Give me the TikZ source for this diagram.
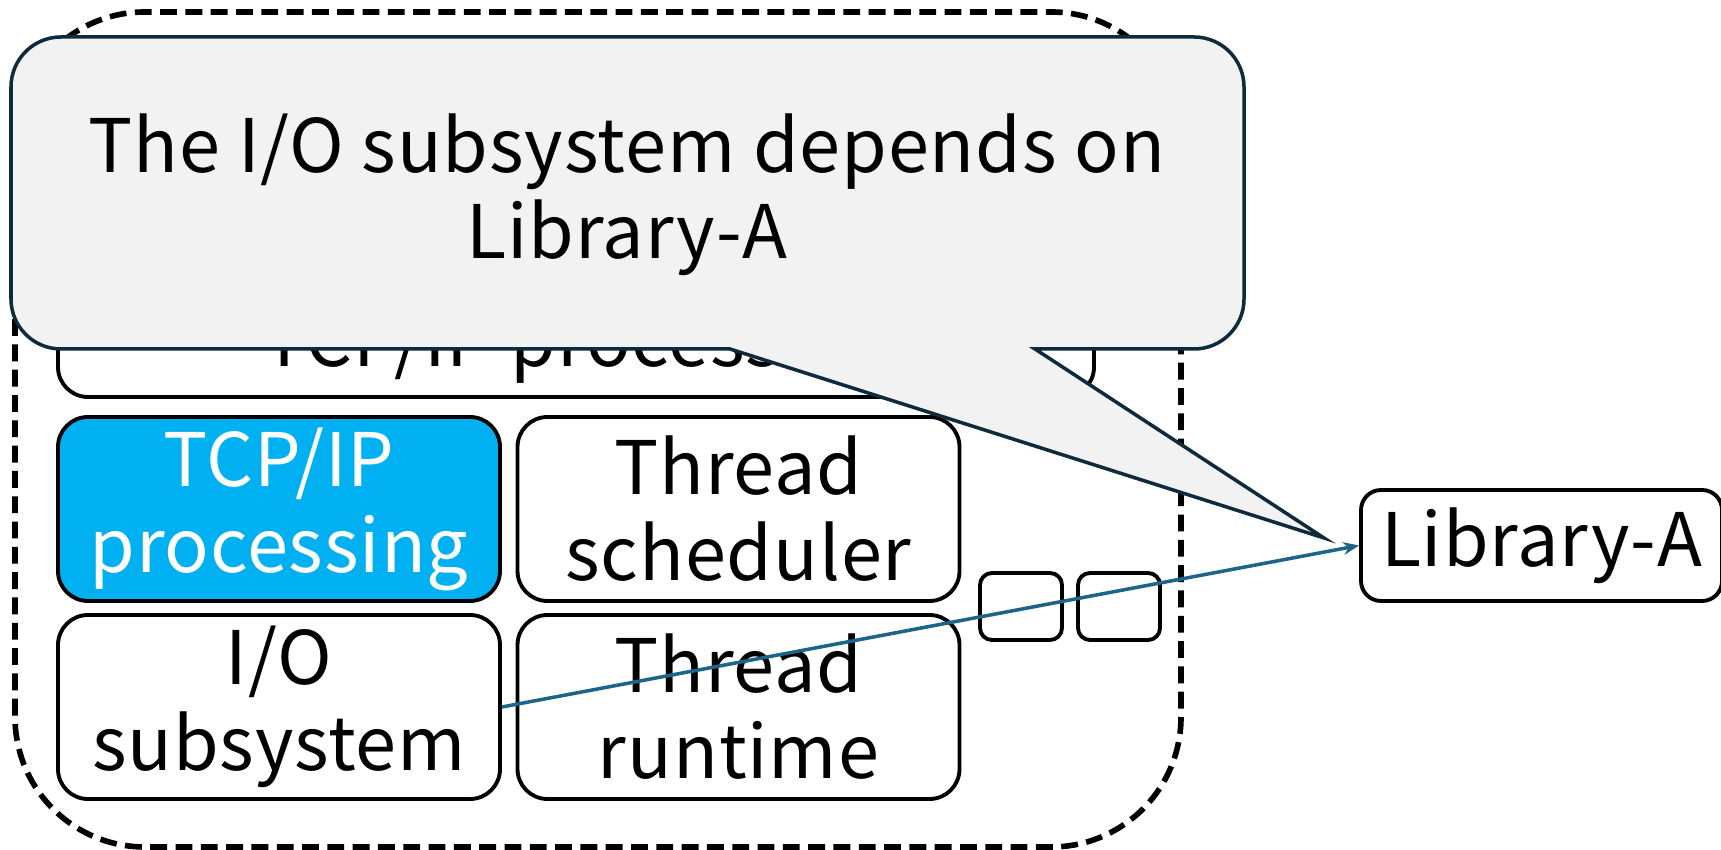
\documentclass[tikz,border=0pt]{standalone}
\usepackage{fontspec}
\setmainfont{Noto Sans CJK JP}[LetterSpace=1.2]
\usetikzlibrary{arrows.meta}
\definecolor{procblue}{HTML}{00B0F0}
\definecolor{notefill}{HTML}{F2F2F2}
\definecolor{noteline}{HTML}{0E2A3B}
\definecolor{deparrow}{HTML}{1C6488}
\tikzset{
  module/.style={draw, line width=1.1pt, rounded corners=0.3cm, fill=white, align=center,
    inner sep=0pt, minimum width=4.42cm, minimum height=1.84cm},
  slot/.style={draw, line width=1.1pt, rounded corners=0.12cm, inner sep=0pt,
    minimum width=0.82cm, minimum height=0.67cm},
}
\begin{document}
\begin{tikzpicture}[font=\fontsize{21}{24.5}\selectfont]
    \useasboundingbox (0,0) rectangle (17.21,-8.50);

    % process boundary
    \draw[line width=1.6pt, dash pattern=on 4.8pt off 2.4pt, rounded corners=1.3cm] (0.15,-0.12) rectangle (11.81,-8.47);

    % modules
    \node[module, minimum width=10.36cm, minimum height=1.02cm] (tcpall) at (5.76,-3.46) {TCP/IP processing};
    \node[module, fill=procblue, text=white] (tcp) at (2.79,-5.09) {TCP/IP\\processing};
    \node[module] (sched) at (7.385,-5.09) {Thread\\scheduler};
    \node[module] (io) at (2.79,-7.07) {I/O\\subsystem};
    \node[module] (rt) at (7.385,-7.07) {Thread\\runtime};
    \node[slot] (slota) at (10.21,-6.065) {};
    \node[slot] (slotb) at (11.19,-6.065) {};

    % library
    \node[draw, line width=1.1pt, rounded corners=0.2cm, inner sep=0pt, minimum width=3.61cm, minimum height=1.11cm] (liba) at (15.415,-5.455) {Library-A};
    \draw[deparrow, line width=1pt, -{Stealth[length=4.5pt,width=3.6pt]}] (io.east) -- (liba.west);

    % callout
    \filldraw[fill=notefill, draw=noteline, line width=1pt]
        (0.11,-2.0) [rounded corners=0.5cm] -- (0.11,-0.37) -- (12.44,-0.37) -- (12.44,-3.49) -- (11.0,-3.49)
        [sharp corners] -- (10.35,-3.49) -- (13.24,-5.38) -- (7.30,-3.49) -- (5.0,-3.49)
        [rounded corners=0.5cm] -- (0.11,-3.49) -- cycle;
    \node[align=center] (note) at (6.27,-1.95) {The I/O subsystem depends on\\Library-A};
\end{tikzpicture}
\end{document}
